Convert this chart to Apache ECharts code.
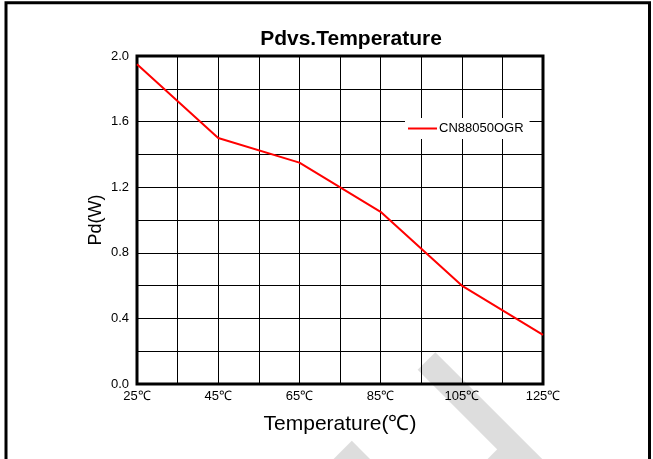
<!DOCTYPE html>
<html>
<head>
<meta charset="utf-8">
<script src="https://cdn.jsdelivr.net/npm/echarts@6/dist/echarts.min.js"></script>
<style>
html,body{margin:0;padding:0;background:#fff;}
#c{width:653px;height:459px;}
</style>
</head>
<body>
<div id="c"></div>
<script>
// ---- data ----
const temps = [25, 45, 65, 85, 105, 125];
const pd = [1.95, 1.50, 1.35, 1.05, 0.60, 0.30];
const seriesName = 'CN88050OGR';
const xTickLabels = ['25℃', '45℃', '65℃', '85℃', '105℃', '125℃'];
const yTickLabels = ['0.0', '0.4', '0.8', '1.2', '1.6', '2.0'];
const titleText = 'Pdvs.Temperature';
const xName = 'Temperature(℃)';
const yName = 'Pd(W)';

const T0 = 25; // axis offset so tick counting starts at a multiple of the interval
const points = temps.map((t, i) => [t - T0, pd[i]]);

const font = '"Liberation Sans", Arial, sans-serif';
const chart = echarts.init(document.getElementById('c'), null, {renderer: 'canvas'});
chart.setOption({
  backgroundColor: '#fff',
  animation: false,
  title: {
    text: titleText, left: 346, top: 24, textAlign: 'center',
    textStyle: {fontFamily: font, fontSize: 21, fontWeight: 'bold', color: '#000'}
  },
  legend: {
    data: [seriesName], left: 405, top: 118, orient: 'vertical',
    backgroundColor: '#fff', padding: [4, 6, 4, 3],
    icon: 'rect', itemWidth: 29, itemHeight: 2,
    textStyle: {fontFamily: font, fontSize: 13, color: '#000', padding: [0, 0, 0, -3]}
  },
  grid: {
    left: 137, top: 56, right: 110, bottom: 75,
    show: true, borderColor: '#000', borderWidth: 3, backgroundColor: 'transparent'
  },
  xAxis: {
    type: 'value', min: 0, max: 100, interval: 10,
    name: xName, nameLocation: 'middle', nameGap: 30, nameMoveOverlap: false,
    nameTextStyle: {fontFamily: font, fontSize: 21, color: '#000'},
    axisLine: {show: false}, axisTick: {show: false},
    splitLine: {show: true, lineStyle: {color: '#000', width: 1}},
    axisLabel: {
      fontFamily: font, fontSize: 13, color: '#000', margin: 6, showMaxLabel: true, showMinLabel: true,
      formatter: v => { const r = Math.round(v); return r % 20 === 0 ? xTickLabels[r / 20] : ''; }
    }
  },
  yAxis: {
    type: 'value', min: 0, max: 2, interval: 0.2,
    name: yName, nameLocation: 'middle', nameGap: 32, nameRotate: 90, nameMoveOverlap: false,
    nameTextStyle: {fontFamily: font, fontSize: 18, color: '#000'},
    axisLine: {show: false}, axisTick: {show: false},
    splitLine: {show: true, lineStyle: {color: '#000', width: 1}},
    axisLabel: {
      fontFamily: font, fontSize: 13, color: '#000', margin: 8,
      formatter: v => { const k = Math.round(v * 10); return k % 4 === 0 ? yTickLabels[k / 4] : ''; }
    }
  },
  series: [{
    name: seriesName, type: 'line', data: points,
    symbol: 'none', color: '#ff0000',
    lineStyle: {color: '#ff0000', width: 2}, z: 5
  }],
  graphic: [
    {type: 'line', z: -100, silent: true, shape: {x1: 426.5, y1: 361, x2: 620, y2: 554.5},
     style: {stroke: '#dddddd', lineWidth: 25, lineCap: 'butt'}},
    {type: 'line', z: -100, silent: true, shape: {x1: 361, y1: 450, x2: 290, y2: 521},
     style: {stroke: '#dddddd', lineWidth: 26, lineCap: 'butt'}},
    {type: 'line', z: -100, silent: true, shape: {x1: 515, y1: 450, x2: 430, y2: 535},
     style: {stroke: '#dddddd', lineWidth: 26, lineCap: 'butt'}},
    {type: 'rect', z: 100, silent: true, shape: {x: 6, y: 2.7, width: 643.5, height: 520},
     style: {stroke: '#000', lineWidth: 3, fill: null}}
  ]
});
</script>
</body>
</html>
